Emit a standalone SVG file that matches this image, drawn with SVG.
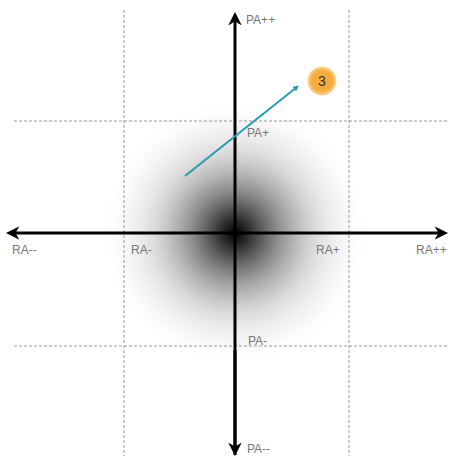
<svg xmlns="http://www.w3.org/2000/svg" width="452" height="459" viewBox="0 0 452 459">
<defs>
<radialGradient id="blob" cx="235" cy="233" r="135" gradientUnits="userSpaceOnUse">
<stop offset="0" stop-color="#000" stop-opacity="1"/>
<stop offset="0.1" stop-color="#222" stop-opacity="0.95"/>
<stop offset="0.33" stop-color="#666" stop-opacity="0.72"/>
<stop offset="0.6" stop-color="#aaa" stop-opacity="0.42"/>
<stop offset="0.85" stop-color="#ddd" stop-opacity="0.18"/>
<stop offset="1" stop-color="#fff" stop-opacity="0"/>
</radialGradient>
<radialGradient id="badge" cx="0.5" cy="0.5" r="0.5">
<stop offset="0.7" stop-color="#F4AC3D"/>
<stop offset="1" stop-color="#F8D8A0"/>
</radialGradient>
<marker id="ah" viewBox="0 0 10 10" refX="7" refY="5" markerWidth="4.5" markerHeight="4.5" orient="auto" markerUnits="strokeWidth">
<path d="M0,0 L10,5 L0,10 L3,5 Z" fill="#000"/>
</marker>
<marker id="th" viewBox="0 0 10 10" refX="6" refY="5" markerWidth="3" markerHeight="3" orient="auto" markerUnits="strokeWidth">
<path d="M0,0 L10,5 L0,10 Z" fill="#2A9BAF"/>
</marker>
</defs>
<style>
.grid{stroke:#999;stroke-width:1;stroke-dasharray:3,2;fill:none}
.axis{stroke:#000;stroke-width:3;fill:none}
.lbl{font-family:"Liberation Sans",Arial,sans-serif;font-size:12px;fill:#777}
</style>
<rect width="452" height="459" fill="#fff"/>
<circle cx="235" cy="233" r="135" fill="url(#blob)"/>
<g id="grid">
<line class="grid" x1="124" y1="10" x2="124" y2="456"/>
<line class="grid" x1="349" y1="10" x2="349" y2="456"/>
<line class="grid" x1="14" y1="121" x2="448" y2="121"/>
<line class="grid" x1="14" y1="346" x2="448" y2="346"/>
</g>
<g id="connectors">
<line class="axis" x1="235" y1="455" x2="235" y2="16" marker-end="url(#ah)"/>
<line class="axis" x1="235" y1="350" x2="235" y2="452" marker-end="url(#ah)"/>
<line class="axis" x1="235" y1="233" x2="10" y2="233" marker-end="url(#ah)"/>
<line class="axis" x1="235" y1="233" x2="444" y2="233" marker-end="url(#ah)"/>
<line x1="185" y1="176" x2="297" y2="87" stroke="#2A9BAF" stroke-width="2" marker-end="url(#th)"/>
</g>
<g id="badge3">
<circle cx="322" cy="81" r="14.5" fill="url(#badge)"/>
<text x="322" y="86" text-anchor="middle" font-family="Liberation Sans,Arial,sans-serif" font-size="14" fill="#333">3</text>
</g>
<g id="labels">
<text class="lbl" x="246" y="24">PA++</text>
<text class="lbl" x="247" y="137">PA+</text>
<text class="lbl" x="248" y="345">PA-</text>
<text class="lbl" x="247" y="453">PA--</text>
<text class="lbl" x="12" y="254">RA--</text>
<text class="lbl" x="131" y="254">RA-</text>
<text class="lbl" x="316" y="254">RA+</text>
<text class="lbl" x="416" y="254">RA++</text>
</g>
</svg>
